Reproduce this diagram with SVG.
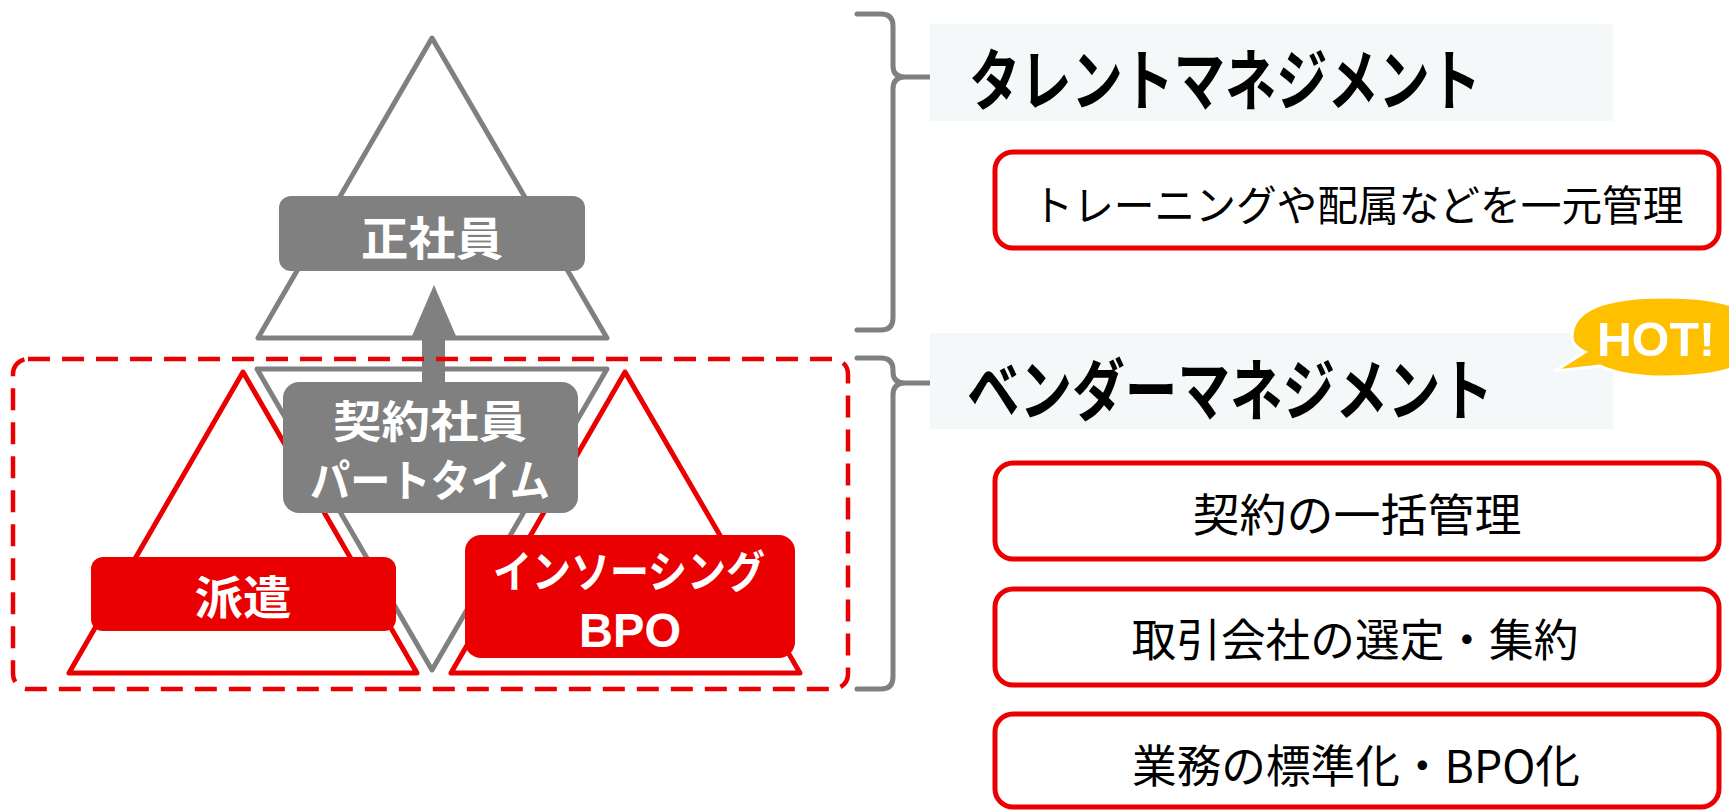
<svg xmlns="http://www.w3.org/2000/svg" width="1729" height="810" viewBox="0 0 1729 810">
<style>
.tri-g{fill:#fff;stroke:#808080;stroke-width:5;stroke-linejoin:round}
.tri-r{fill:#fff;stroke:#EA0000;stroke-width:5;stroke-linejoin:round}
.box-g{fill:#808080}
.box-r{fill:#EA0000}
.lbl{font-family:"Noto Sans CJK JP","Noto Sans",sans-serif;font-weight:700;fill:#fff;dominant-baseline:central;text-anchor:middle}
.lat{font-family:"Liberation Sans",Arial,sans-serif;font-weight:700;fill:#fff;text-anchor:middle}
.head-bg{fill:#F4F8F9}
.head{font-family:"Noto Sans CJK JP",sans-serif;font-weight:700;fill:#000;dominant-baseline:central;text-anchor:middle}
.item{fill:#fff;stroke:#EA0000;stroke-width:5}
.itxt{font-family:"Noto Sans CJK JP",sans-serif;font-weight:400;fill:#000;dominant-baseline:central;text-anchor:middle}
.brace{fill:none;stroke:#808080;stroke-width:5;stroke-linecap:round;stroke-linejoin:round}
</style>

<g id="pyramid-top">
<polygon class="tri-g" points="432,38 258,338 607,338"/>
</g>
<g id="pyramid-inverted">
<polygon class="tri-g" points="257,369 607,369 432,670"/>
</g>
<g id="tri-haken">
<polygon class="tri-r" points="243,372 69,673 417,673"/>
</g>
<g id="tri-insourcing">
<polygon class="tri-r" points="625,372 451,673 800,673"/>
</g>

<g id="connectors">
<path d="M422,335 L445,335 L445,384 L422,384 Z" fill="#808080"/>
<polygon points="434,285 456,336 412,336" fill="#808080"/>
</g>

<g id="node-seishain">
<rect class="box-g" x="279" y="196" width="306" height="75" rx="12"/>
<text class="lbl" x="432" y="235" font-size="46" textLength="142" lengthAdjust="spacingAndGlyphs">正社員</text>
</g>

<g id="node-keiyaku">
<rect class="box-g" x="283" y="382" width="295" height="131" rx="16"/>
<text class="lbl" x="430" y="419" font-size="44" textLength="194" lengthAdjust="spacingAndGlyphs">契約社員</text>
<text class="lbl" x="430" y="478" font-size="44" textLength="240" lengthAdjust="spacingAndGlyphs">パートタイム</text>
</g>

<g id="node-haken">
<rect class="box-r" x="91" y="557" width="305" height="74" rx="12"/>
<text class="lbl" x="243" y="594" font-size="46" textLength="97" lengthAdjust="spacingAndGlyphs">派遣</text>
</g>

<g id="node-insourcing">
<rect class="box-r" x="465" y="535" width="330" height="123" rx="16"/>
<text class="lbl" x="629" y="569" font-size="44" textLength="272" lengthAdjust="spacingAndGlyphs">インソーシング</text>
<text class="lat" x="630" y="647" font-size="48" textLength="102" lengthAdjust="spacingAndGlyphs">BPO</text>
</g>

<g id="group-vendor">
<rect x="13" y="359" width="835" height="330" rx="15" fill="none" stroke="#EA0000" stroke-width="4.5" stroke-dasharray="22,12"/>
</g>

<g id="braces">
<path class="brace" d="M857,14 L881,14 Q893,14 893,26 L893,66 Q893,77 905,77 L933,77 M905,77 Q893,77 893,89 L893,318 Q893,330 881,330 L857,330"/>
<path class="brace" d="M857,358 L881,358 Q893,358 893,370 L893,372 Q893,383 905,383 L933,383 M905,383 Q893,383 893,395 L893,677 Q893,689 881,689 L857,689"/>
</g>

<g id="heading-talent">
<rect class="head-bg" x="930" y="24" width="683" height="97"/>
<text class="head" x="1225" y="75" font-size="67" textLength="512" lengthAdjust="spacingAndGlyphs">タレントマネジメント</text>
</g>

<g id="heading-vendor">
<rect class="head-bg" x="930" y="333" width="683" height="96"/>
<text class="head" x="1230" y="385" font-size="67" textLength="526" lengthAdjust="spacingAndGlyphs">ベンダーマネジメント</text>
</g>

<g id="hot-badge">
<path d="M1585,352 L1555,371 L1600,366 Q1625,377 1665,377 Q1760,377 1760,337 Q1760,297 1665,297 Q1572,297 1572,337 Q1572,346 1585,352 Z" fill="#FFC000" stroke="#fff" stroke-width="3"/>
<text class="lat" x="1656" y="356" font-size="49" textLength="118" lengthAdjust="spacingAndGlyphs">HOT!</text>
</g>

<g id="item-1">
<rect class="item" x="995" y="152" width="724" height="96" rx="18"/>
<text class="itxt" x="1358" y="202" font-size="42" textLength="651" lengthAdjust="spacingAndGlyphs">トレーニングや配属などを一元管理</text>
</g>
<g id="item-2">
<rect class="item" x="995" y="463" width="724" height="96" rx="18"/>
<text class="itxt" x="1357" y="512" font-size="45" textLength="329" lengthAdjust="spacingAndGlyphs">契約の一括管理</text>
</g>
<g id="item-3">
<rect class="item" x="995" y="589" width="724" height="96" rx="18"/>
<text class="itxt" x="1355" y="637" font-size="45" textLength="447" lengthAdjust="spacingAndGlyphs">取引会社の選定・集約</text>
</g>
<g id="item-4">
<rect class="item" x="995" y="714" width="724" height="93" rx="18"/>
<text class="itxt" x="1356" y="763" font-size="45" textLength="448" lengthAdjust="spacingAndGlyphs">業務の標準化・BPO化</text>
</g>
</svg>
